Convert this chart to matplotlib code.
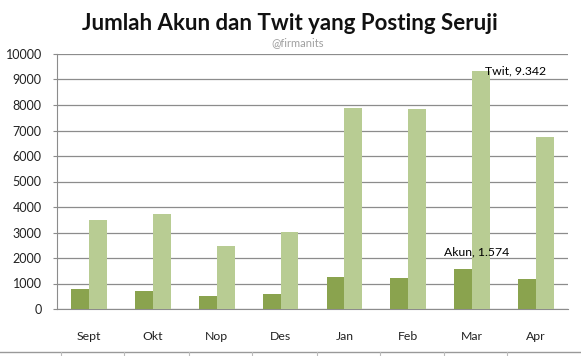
import numpy as np
import matplotlib
matplotlib.use("Agg")
import matplotlib.pyplot as plt
from matplotlib.lines import Line2D

# Data
months = ["Sept", "Okt", "Nop", "Des", "Jan", "Feb", "Mar", "Apr"]
akun = [796, 706, 510, 588, 1255, 1228, 1574, 1176]
twit = [3478, 3725, 2470, 3007, 7870, 7830, 9342, 6733]
yticks = [0, 1000, 2000, 3000, 4000, 5000, 6000, 7000, 8000, 9000, 10000]

DARK = "#8aa34e"
LIGHT = "#b8cc93"
GRID = "#8c8c8c"

plt.rcParams["font.family"] = ["Lato", "DejaVu Sans"]

fig = plt.figure(figsize=(5.81, 3.56), dpi=100)
ax = fig.add_axes([57 / 581, 1 - 309 / 356, (568 - 57) / 581, (309 - 54) / 356])

x = np.arange(len(months))
w = 0.28
ax.bar(x - w / 2, akun, width=w, color=DARK, zorder=3)
ax.bar(x + w / 2, twit, width=w, color=LIGHT, zorder=3)

ax.set_xlim(-0.5, len(months) - 0.5)
ax.set_ylim(0, 10000)
ax.set_yticks(yticks)
ax.set_yticklabels([str(v) for v in yticks], fontsize=9, color="#222222")
ax.set_xticks(x)
ax.set_xticklabels(months, fontsize=8.8, color="#222222")
ax.tick_params(axis="x", length=0, pad=16)
ax.tick_params(axis="y", length=3, color=GRID, pad=8)
ax.grid(axis="y", color=GRID, linewidth=0.9, zorder=0)
for side in ["top", "right"]:
    ax.spines[side].set_visible(False)
ax.spines["left"].set_color(GRID)
ax.spines["bottom"].set_color(GRID)

# point labels on the March bars
ax.annotate("Twit, 9.342", xy=(6, twit[6]), xytext=(9.4, -4),
            textcoords="offset points", fontsize=8.8, va="bottom", ha="left")
ax.annotate("Akun, 1.574", xy=(6 - w, akun[6]), xytext=(-7.2, 8),
            textcoords="offset points", fontsize=8.8, va="bottom", ha="left")

fig.text(290 / 581, 1 - 24 / 356, "Jumlah Akun dan Twit yang Posting Seruji",
         ha="center", va="center", fontsize=16, fontweight="bold", color="#111111")
fig.text(298 / 581, 1 - 43 / 356, "@firmanits", ha="center", va="center",
         fontsize=8, color="#a0a0a0")

# bottom table border
yb = 1 - 352 / 356
fig.add_artist(Line2D([0, 1], [yb, yb], transform=fig.transFigure, color="#999999", linewidth=1))
for xp in [61, 124, 189, 252, 317, 380, 444, 507]:
    fig.add_artist(Line2D([xp / 581, xp / 581], [0, yb], transform=fig.transFigure,
                          color="#bbbbbb", linewidth=0.8))

fig.savefig("out.png", dpi=100)
